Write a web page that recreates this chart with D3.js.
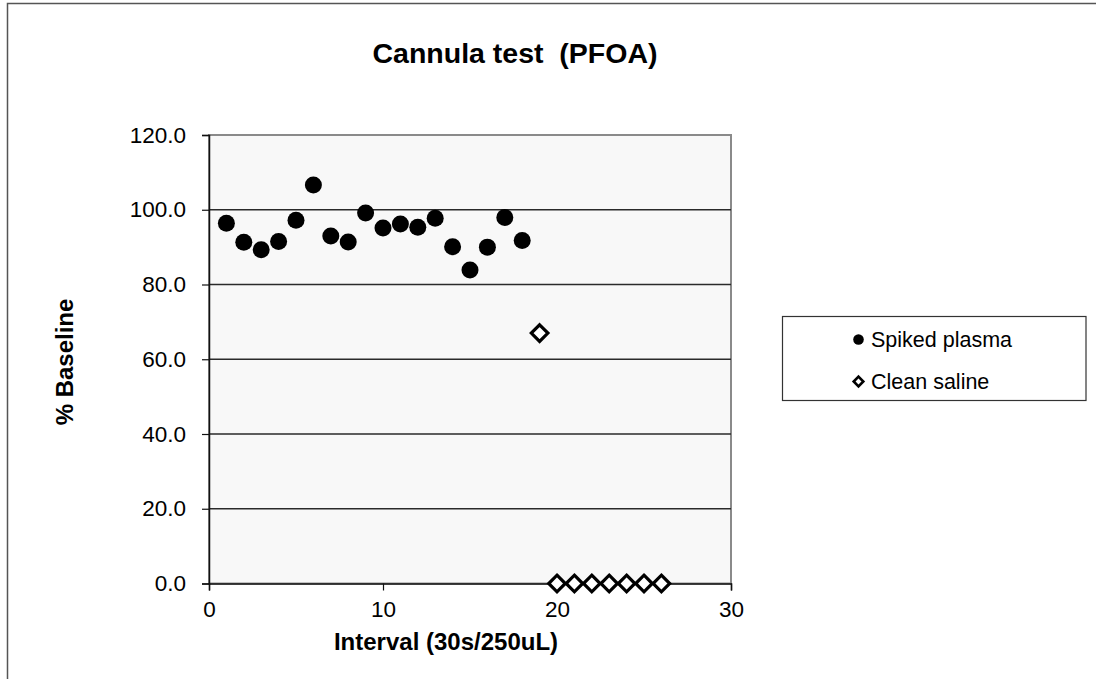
<!DOCTYPE html>
<html>
<head>
<meta charset="utf-8">
<script src="https://cdn.jsdelivr.net/npm/d3@7"></script>
<style>
  html, body { margin: 0; padding: 0; background: #fff; }
  svg { display: block; font-family: "Liberation Sans", Arial, sans-serif; }
</style>
</head>
<body>
<svg id="chart" width="1096" height="679"></svg>
<script>
// Recovery of PFOA through the cannula, per collection interval
const spikedX = [1, 2, 3, 4, 5, 6, 7, 8, 9, 10, 11, 12, 13, 14, 15, 16, 17, 18];
const spikedY = [96.4, 91.3, 89.3, 91.5, 97.2, 106.6, 93.0, 91.4, 99.1, 95.1, 96.2, 95.3, 97.7, 90.1, 83.9, 90.0, 97.9, 91.8];
const salineX = [19, 20, 21, 22, 23, 24, 25, 26];
const salineY = [67.0, 0, 0, 0, 0, 0, 0, 0];
const xTicks = [0, 10, 20, 30];
const yTicks = [0, 20, 40, 60, 80, 100, 120];
const seriesNames = ["Spiked plasma", "Clean saline"];

const svg = d3.select("#chart");
const plot = { left: 209, right: 731, top: 135, bottom: 583.5 };

const x = d3.scaleLinear().domain([0, 30]).range([plot.left, plot.right]);
const y = d3.scaleLinear().domain([0, 120]).range([plot.bottom, plot.top]);

// chart-area frame
svg.append("rect")
  .attr("x", 7.5).attr("y", 3.5)
  .attr("width", 1200).attr("height", 800)
  .attr("fill", "none").attr("stroke", "#555").attr("stroke-width", 1.5);

// plot-area background and frame
svg.append("rect")
  .attr("x", plot.left).attr("y", plot.top)
  .attr("width", plot.right - plot.left).attr("height", plot.bottom - plot.top)
  .attr("fill", "#f8f8f8").attr("stroke", "#8a8a8a").attr("stroke-width", 2);

// horizontal gridlines
svg.append("g")
  .selectAll("line")
  .data(yTicks.filter(d => d > 0 && d < 120))
  .join("line")
  .attr("x1", plot.left).attr("x2", plot.right)
  .attr("y1", d => y(d)).attr("y2", d => y(d))
  .attr("stroke", "#2a2a2a").attr("stroke-width", 1.3);

// axes
const yAxis = svg.append("g")
  .attr("transform", `translate(${plot.left},0)`)
  .call(d3.axisLeft(y).tickValues(yTicks).tickFormat(d3.format(".1f")).tickSizeOuter(0).tickSize(7).tickPadding(16));
const xAxis = svg.append("g")
  .attr("transform", `translate(0,${plot.bottom})`)
  .call(d3.axisBottom(x).tickValues(xTicks).tickFormat(d3.format("d")).tickSizeOuter(0).tickSize(7).tickPadding(11));

[yAxis, xAxis].forEach(g => {
  g.select(".domain").attr("stroke", "#111").attr("stroke-width", 1.5);
  g.selectAll(".tick line").attr("stroke", "#111").attr("stroke-width", 1.2);
  g.selectAll(".tick text")
    .attr("fill", "#000")
    .style("font-size", "22.5px")
    .style("font-family", "'Liberation Sans', Arial, sans-serif");
});

// series: spiked plasma (filled circles)
svg.append("g")
  .selectAll("circle")
  .data(spikedX.map((d, i) => [d, spikedY[i]]))
  .join("circle")
  .attr("cx", d => x(d[0])).attr("cy", d => y(d[1]))
  .attr("r", 8.5).attr("fill", "#000");

// series: clean saline (open diamonds)
const diamond = (cx, cy, r) => `M${cx},${cy - r}L${cx + r},${cy}L${cx},${cy + r}L${cx - r},${cy}Z`;
svg.append("g")
  .selectAll("path")
  .data(salineX.map((d, i) => [d, salineY[i]]))
  .join("path")
  .attr("d", d => diamond(x(d[0]), y(d[1]), 8.3))
  .attr("fill", "#fff").attr("stroke", "#000").attr("stroke-width", 3.2)
  .attr("stroke-linejoin", "miter");

// title
svg.append("text")
  .attr("x", 515).attr("y", 63)
  .attr("text-anchor", "middle")
  .style("font-size", "28.5px").style("font-weight", "bold")
  .style("white-space", "pre")
  .text("Cannula test  (PFOA)");

// axis titles
svg.append("text")
  .attr("x", 446).attr("y", 650)
  .attr("text-anchor", "middle")
  .style("font-size", "24px").style("font-weight", "bold")
  .text("Interval (30s/250uL)");

svg.append("text")
  .attr("transform", "translate(73,362) rotate(-90)")
  .attr("text-anchor", "middle")
  .style("font-size", "24px").style("font-weight", "bold")
  .text("% Baseline");

// legend
const legend = svg.append("g");
legend.append("rect")
  .attr("x", 782.5).attr("y", 316.5).attr("width", 303.5).attr("height", 84)
  .attr("fill", "#fff").attr("stroke", "#333").attr("stroke-width", 1.2);

const legendRows = [339.5, 381.5];
legend.append("circle")
  .attr("cx", 858.5).attr("cy", legendRows[0]).attr("r", 5.3).attr("fill", "#000");
legend.append("path")
  .attr("d", diamond(858.5, legendRows[1], 4.8))
  .attr("fill", "#fff").attr("stroke", "#000").attr("stroke-width", 2.6);

legend.selectAll("text.lbl")
  .data(seriesNames)
  .join("text")
  .attr("class", "lbl")
  .attr("x", 871).attr("y", (d, i) => legendRows[i] + 7.5)
  .style("font-size", "21.5px")
  .text(d => d);
</script>
</body>
</html>
